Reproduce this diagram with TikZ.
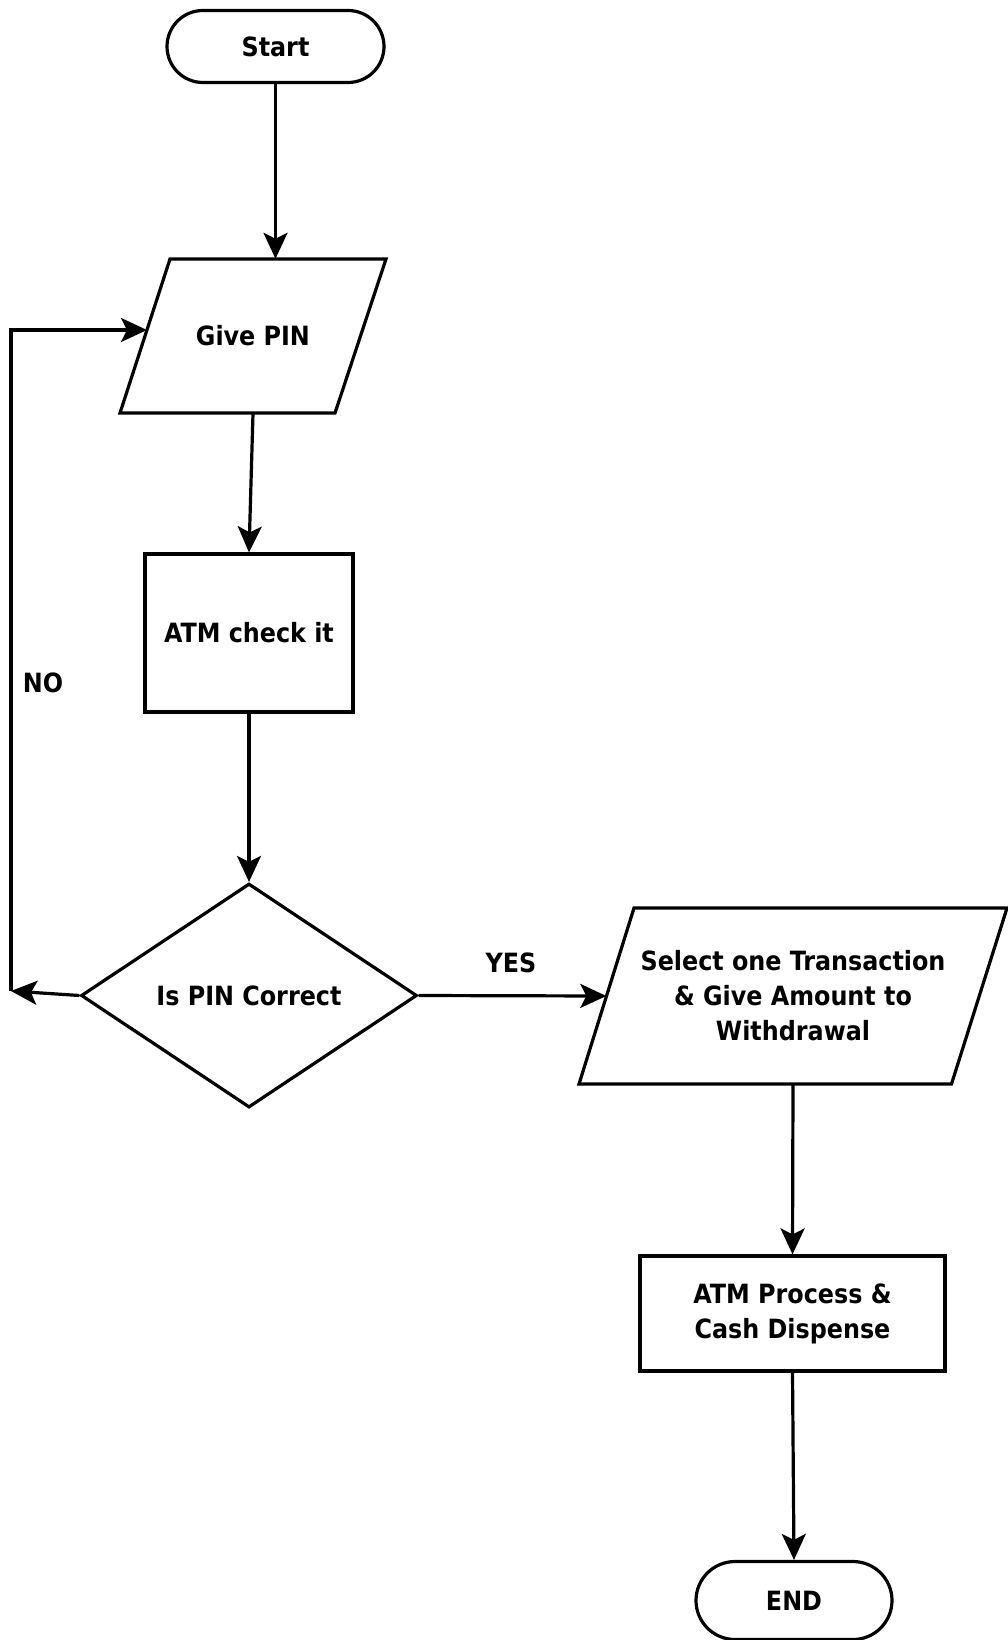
\documentclass[tikz,border=0pt]{standalone}
\usepackage{fontspec}
\setmainfont{DejaVu Sans Condensed}
\usetikzlibrary{arrows.meta,shapes.geometric,calc}
\begin{document}
\begin{tikzpicture}[x=1pt,y=1pt,
  ln/.style={line width=3.2pt},
  arr/.style={ln,-{Stealth[length=26pt,width=24pt,inset=6pt]}},
  txt/.style={font=\fontsize{26.5}{35}\selectfont\bfseries, align=center},
  term/.style={txt, draw, ln, rounded corners=36pt, minimum width=217pt, minimum height=72pt, inner sep=0pt},
  procbox/.style={txt, draw, ln, inner sep=0pt},
  iobox/.style={txt, inner sep=0pt},
  dec/.style={txt, draw, ln, diamond, aspect=1.5, inner sep=0pt, minimum width=336pt, minimum height=224pt},
  lab/.style={txt}
]
\useasboundingbox (0,0) rectangle (1008,-1640);
\node[term] (start) at (275.5,-46.5) {Start};
\node[iobox, minimum width=216pt, minimum height=154pt] (gp) at (253,-336) {Give PIN};
\draw[ln] ($(gp.center)+(-83,77)$) -- ($(gp.center)+(133,77)$) -- ($(gp.center)+(82,-77)$) -- ($(gp.center)+(-133,-77)$) -- cycle;
\node[procbox, minimum width=208pt, minimum height=158pt] (chk) at (249,-633) {ATM check it};
\node[dec] (dia) at (249,-995.5) {Is PIN Correct};
\node[iobox, minimum width=373pt, minimum height=176pt] (sel) at (793,-996) {Select one Transaction\\ \& Give Amount to\\ Withdrawal};
\draw[ln] ($(sel.center)+(-159,88)$) -- ($(sel.center)+(214,88)$) -- ($(sel.center)+(158.5,-88)$) -- ($(sel.center)+(-214,-88)$) -- cycle;
\node[procbox, minimum width=305pt, minimum height=115pt] (disp) at (792.5,-1313.5) {ATM Process \&\\ Cash Dispense};
\node[term, minimum width=196pt, minimum height=78pt, rounded corners=39pt] (end) at (794,-1600.5) {END};
\node[lab] (no) at (43,-683) {NO};
\node[lab] (yes) at (511,-963) {YES};
\coordinate (nl) at (11,-991);
\coordinate (gpin) at (147,-330);
\draw[arr] (start.south) -- (start.south |- gp.north);
\draw[arr] (gp.south) -- (chk.north);
\draw[arr] (chk.south) -- (dia.north);
\draw[arr] (dia.west) -- (nl);
\draw[arr] (nl) |- (gpin);
\draw[arr] (dia.east) -- (sel.west);
\draw[arr] (sel.south) -- (disp.north);
\draw[arr] (disp.south) -- (end.north);
\end{tikzpicture}
\end{document}
